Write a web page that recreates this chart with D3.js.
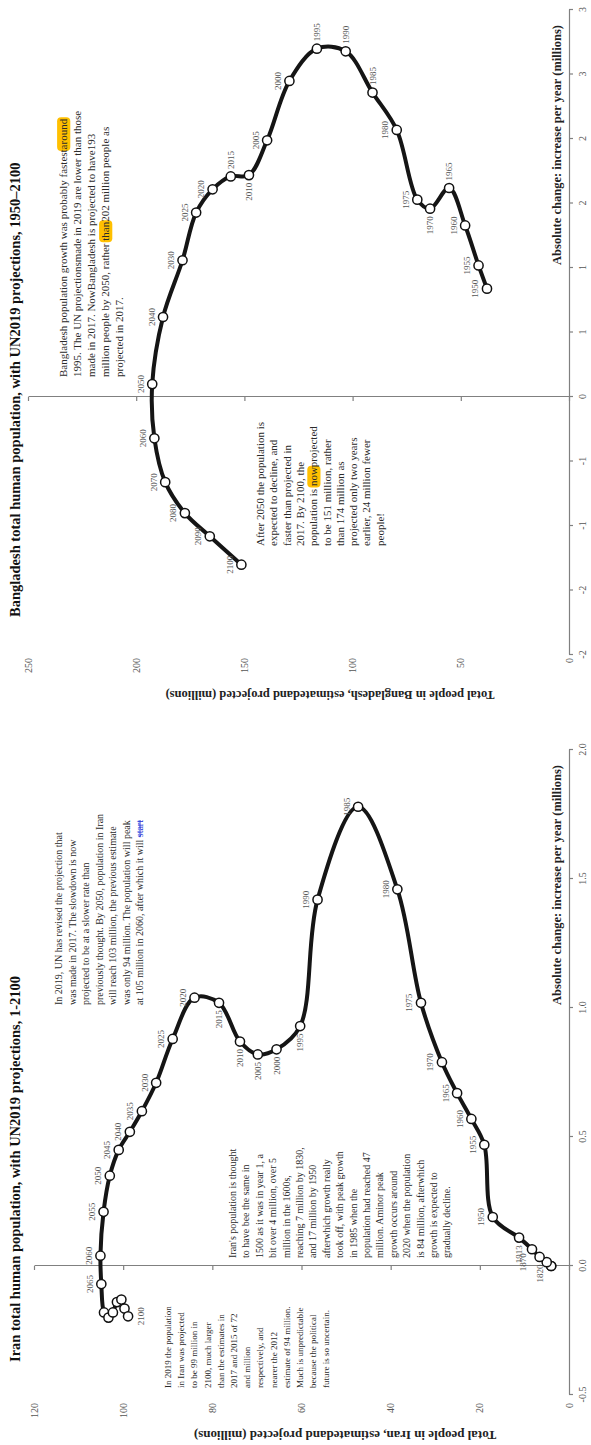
<!DOCTYPE html>
<html><head><meta charset="utf-8">
<script src="https://cdn.jsdelivr.net/npm/d3@7"></script>
<style>
body{margin:0;background:#fff}
svg{display:block}
text{font-family:"Liberation Serif","Times New Roman",serif;white-space:pre}
</style>
</head><body>
<svg id="c" width="591" height="1445"></svg>
<script>
// ---------------- DATA ----------------
const iranYears = [1,1500,1600,1820,1870,1913,1950,1955,1960,1965,1970,1975,1980,1985,1990,1995,2000,2005,2010,2015,2020,2025,2030,2035,2040,2045,2050,2055,2060,2065,2070,2075,2080,2085,2090,2095,2100];
const iranPopulation = [4.0,4.0,5.0,6.6,8.3,11.2,17.1,19.0,21.9,25.1,28.5,33.2,38.5,47.3,56.4,60.3,65.6,69.8,73.8,78.5,84.0,88.9,92.6,95.8,98.5,101.0,103.0,104.4,105.1,104.9,104.3,103.3,102.3,101.4,100.4,99.7,98.9];
const iranChange = [0.0,0.0,0.015,0.035,0.065,0.11,0.19,0.47,0.57,0.67,0.79,1.02,1.46,1.78,1.42,0.93,0.84,0.82,0.87,1.02,1.04,0.88,0.71,0.60,0.52,0.45,0.35,0.21,0.04,-0.07,-0.18,-0.20,-0.18,-0.14,-0.13,-0.165,-0.195];
const iranPointLabels = ["","","","1820","1870","1913","1950","1955","1960","1965","1970","1975","1980","1985","1990","1995","2000","2005","2010","2015","2020","2025","2030","2035","2040","2045","2050","2055","2060","2065","","","","","","","2100"];
const iranChangeTicks = [-0.5,0,0.5,1,1.5,2];
const iranChangeTickLabels = ["-0.5","0.0","0.5","1.0","1.5","2.0"];
const iranPopTicks = [0,20,40,60,80,100,120];

const bdYears = [1950,1955,1960,1965,1970,1975,1980,1985,1990,1995,2000,2005,2010,2015,2020,2025,2030,2040,2050,2060,2070,2080,2090,2100];
const bdPopulation = [37.9,41.8,48.0,55.4,64.2,70.1,79.6,90.8,103.2,116.5,129.2,139.5,147.9,156.3,164.7,172.3,178.6,187.6,192.6,191.6,186.6,177.5,166.0,151.4];
const bdChange = [0.84,1.02,1.33,1.62,1.46,1.53,2.07,2.36,2.68,2.70,2.45,1.99,1.72,1.71,1.61,1.43,1.06,0.62,0.10,-0.32,-0.66,-0.90,-1.08,-1.30];
const bdPointLabels = bdYears.map(String);
const bdChangeTicks = [-2,-1.5,-1,-0.5,0,0.5,1,1.5,2,2.5,3];
const bdChangeTickLabels = ["-2","-2","-1","-1","0","1","1","2","2","3","3"];
const bdPopTicks = [0,50,100,150,200,250];

const iranTitle = "Iran total human population, with UN2019 projections, 1-2100";
const bdTitle = "Bangladesh total human population, with UN2019 projections, 1950\u20132100";
const iranYTitle = "Total people in Iran, estimatedand projected (millions)";
const bdYTitle = "Total people in Bangladesh, estimatedand projected (millions)";
const xTitle = "Absolute change: increase per year (millions)";

const iranNote1 = [
 "In 2019, UN has revised the projection that",
 "was made in 2017. The slowdown is now",
 "projected to be at a slower rate than",
 "previously thought. By 2050, population in Iran",
 "will reach 103 million, the previous estimate",
 "was only 94 million. The population will peak",
 "at 105 million in 2060, after which it will {start}"];
const iranNote2 = [
 "In 2019 the population","in Iran was projected","to be 99 million in","2100, much larger",
 "than the estimates in","2017 and 2015 of 72","and million","respectively, and","nearer the 2012",
 "estimate of 94 million.","Much is unpredictable","because the political","future is so uncertain."];
const iranNote3 = [
 "Iran's population is thought","to have bee the same in","1500 as it was in year 1, a",
 "bit over 4 million, over 5","million in the 1600s,","reaching 7 million by 1830,",
 "and 17 million by 1950","afterwhich growth really","took off, with peak growth",
 "in 1985 when the","population had reached 47","million. Aminor peak","growth occurs around",
 "2020 when the population","is 84 million, afterwhich","growth is expected to","gradually decline."];
const bdNote1 = [
 "Bangladesh population growth was probably fastest[around]",
 "1995. The UN projectionsmade in 2019 are lower than those",
 "made in 2017. NowBangladesh is projected to have193",
 "million people by 2050, rather [than]202 million people as",
 "projected in 2017."];
const bdNote2 = [
 "After 2050 the population is","expected to decline, and","faster than projected in",
 "2017. By 2100, the","population is [now]projected","to be 151 million, rather",
 "than 174 million as","projected only two years","earlier, 24 million fewer","people!"];

// ---------------- LAYOUT ----------------
const svg = d3.select("#c");
const root = svg.append("g").attr("transform","translate(0,1445) rotate(-90)"); // landscape 1445 x 591

const labelPos = {
  iran: {"1820":"l","1870":"al","1913":"l","1995":"l","2000":"l","2005":"l","2010":"l","2015":"l","2100":"b"},
  bd: {"1965":"r","1970":"l","1985":"r","1990":"r","1995":"r","2010":"l","2015":"r"}
};

function drawBlock(g, lines, x, y0, lh, size, color){
  const hlG = g.append("g"), txG = g.append("g");
  lines.forEach((line,i)=>{
    const segs = line.split(/(\[[^\]]*\]|\{[^}]*\})/).filter(s=>s.length);
    const y = y0 + i*lh;
    const t = txG.append("text").attr("x",x).attr("y",y).attr("font-size",size).attr("fill",color||"#2a2a2a");
    const marks=[]; let idx=0;
    segs.forEach(s=>{
      let kind=null, str=s;
      if(s[0]==="["){kind="hl";str=s.slice(1,-1);}
      else if(s[0]==="{"){kind="blue";str=s.slice(1,-1);}
      const ts=t.append("tspan").text(str);
      if(kind==="blue") ts.attr("fill","#2436d8").attr("text-decoration","line-through");
      if(kind==="hl") marks.push([idx,str.length]);
      idx+=str.length;
    });
    const node=t.node();
    marks.forEach(([s,n])=>{
      const x0 = s>0 ? node.getSubStringLength(0,s) : 0;
      const w = node.getSubStringLength(s,n);
      hlG.append("rect").attr("x",x+x0-1.5).attr("y",y-size*0.9).attr("width",w+3).attr("height",size*1.2)
        .attr("rx",4).attr("fill","#ffc000");
    });
  });
}

function drawChart(cfg){
  const g = root.append("g");
  const x = d3.scaleLinear().domain(cfg.xDomain).range(cfg.xRange);
  const y = d3.scaleLinear().domain(cfg.yDomain).range(cfg.yRange);

  g.append("text").attr("x",cfg.titleX).attr("y",20).attr("font-size",14.5).attr("font-weight","bold")
    .attr("fill","#111").text(cfg.title);

  g.append("text").attr("transform",`translate(${cfg.yTitleX},${cfg.yTitleY}) rotate(-90)`).attr("text-anchor","middle")
    .attr("font-size",cfg.yTitleSize).attr("font-weight","bold").attr("fill","#222").text(cfg.yTitle);

  g.append("g").selectAll("text").data(cfg.popTicks).join("text")
    .attr("x",cfg.popLabelX).attr("y",d=>y(d)+3.5).attr("text-anchor","end")
    .attr("font-size",10).attr("fill","#555").text(d=>d);

  const xa = d3.axisBottom(x).tickValues(cfg.xTicks).tickSize(4).tickSizeOuter(0).tickPadding(6)
    .tickFormat((d,i)=>cfg.xTickLabels[i]);
  const gx = g.append("g").attr("transform",`translate(0,${cfg.yRange[0]})`).call(xa);
  gx.select(".domain").attr("stroke","#808080").attr("stroke-width",1.2);
  gx.selectAll(".tick line").attr("stroke","#808080").attr("stroke-width",1.2);
  gx.selectAll(".tick text").attr("font-size",10).attr("fill","#555")
    .attr("font-family","Liberation Serif, serif");

  const ya = d3.axisLeft(y).tickValues(cfg.popTicks).tickSize(4).tickSizeOuter(0).tickFormat("");
  const gy = g.append("g").attr("transform",`translate(${x(0)},0)`).call(ya);
  gy.select(".domain").attr("stroke","#808080").attr("stroke-width",1.2);
  gy.selectAll(".tick line").attr("stroke","#808080").attr("stroke-width",1.2);

  g.append("text").attr("x",cfg.xTitleEnd).attr("y",cfg.yRange[0]-8).attr("text-anchor","end")
    .attr("font-size",12.5).attr("font-weight","bold").attr("fill","#222").text(xTitle);

  cfg.notes.forEach(n=>drawBlock(g, n.lines, n.x, n.y, n.lh, n.size));

  const pts = cfg.years.map((yr,i)=>({yr, lab:cfg.pointLabels[i], px:x(cfg.change[i]), py:y(cfg.pop[i])}));
  const line = d3.line().x(d=>d.px).y(d=>d.py).curve(d3.curveCatmullRom.alpha(0.5));
  g.append("path").attr("d",line(pts)).attr("fill","none").attr("stroke","#151515")
    .attr("stroke-width",4).attr("stroke-linejoin","round").attr("stroke-linecap","round");

  const lp = cfg.labelPos;
  g.append("g").selectAll("text").data(pts.filter(d=>d.lab)).join("text")
    .attr("font-size",9).attr("fill","#555")
    .each(function(d){
      const p = lp[d.lab] || "a";
      let dx=0, dy=-8.5, anchor="middle";
      if(p==="l"){dx=-7.5;dy=3;anchor="end";}
      else if(p==="r"){dx=7.5;dy=3;anchor="start";}
      else if(p==="b"){dx=0;dy=15.5;anchor="middle";}
      else if(p==="al"){dx=-4;dy=-6;anchor="end";}
      d3.select(this).attr("x",d.px+dx).attr("y",d.py+dy).attr("text-anchor",anchor).text(d.lab);
    });

  g.append("g").selectAll("circle").data(pts).join("circle")
    .attr("cx",d=>d.px).attr("cy",d=>d.py).attr("r",4.6)
    .attr("fill","#fff").attr("stroke","#111").attr("stroke-width",1.5);
}

drawChart({
  title: iranTitle, titleX: 83, yTitle: iranYTitle, yTitleX: 14, yTitleY: 345, yTitleSize: 13, popLabelX: 42,
  xDomain:[-0.5,2], xRange:[50,695], yDomain:[0,120], yRange:[569,34],
  xTicks: iranChangeTicks, xTickLabels: iranChangeTickLabels, popTicks: iranPopTicks,
  xTitleEnd: 680,
  years: iranYears, pop: iranPopulation, change: iranChange, pointLabels: iranPointLabels,
  labelPos: labelPos.iran,
  notes: [
    {lines: iranNote1, x: 440, y: 62, lh: 13.5, size: 10},
    {lines: iranNote2, x: 57, y: 171, lh: 13.2, size: 9},
    {lines: iranNote3, x: 187, y: 236, lh: 13.4, size: 10}
  ]
});

drawChart({
  title: bdTitle, titleX: 828, yTitle: bdYTitle, yTitleX: 754, yTitleY: 330, yTitleSize: 12.5, popLabelX: 787,
  xDomain:[-2,3], xRange:[790,1435], yDomain:[0,250], yRange:[569,28],
  xTicks: bdChangeTicks, xTickLabels: bdChangeTickLabels, popTicks: bdPopTicks,
  xTitleEnd: 1420,
  years: bdYears, pop: bdPopulation, change: bdChange, pointLabels: bdPointLabels,
  labelPos: labelPos.bd,
  notes: [
    {lines: bdNote1, x: 1068, y: 67, lh: 14, size: 11},
    {lines: bdNote2, x: 899, y: 264, lh: 13.3, size: 11}
  ]
});
</script>
</body></html>
